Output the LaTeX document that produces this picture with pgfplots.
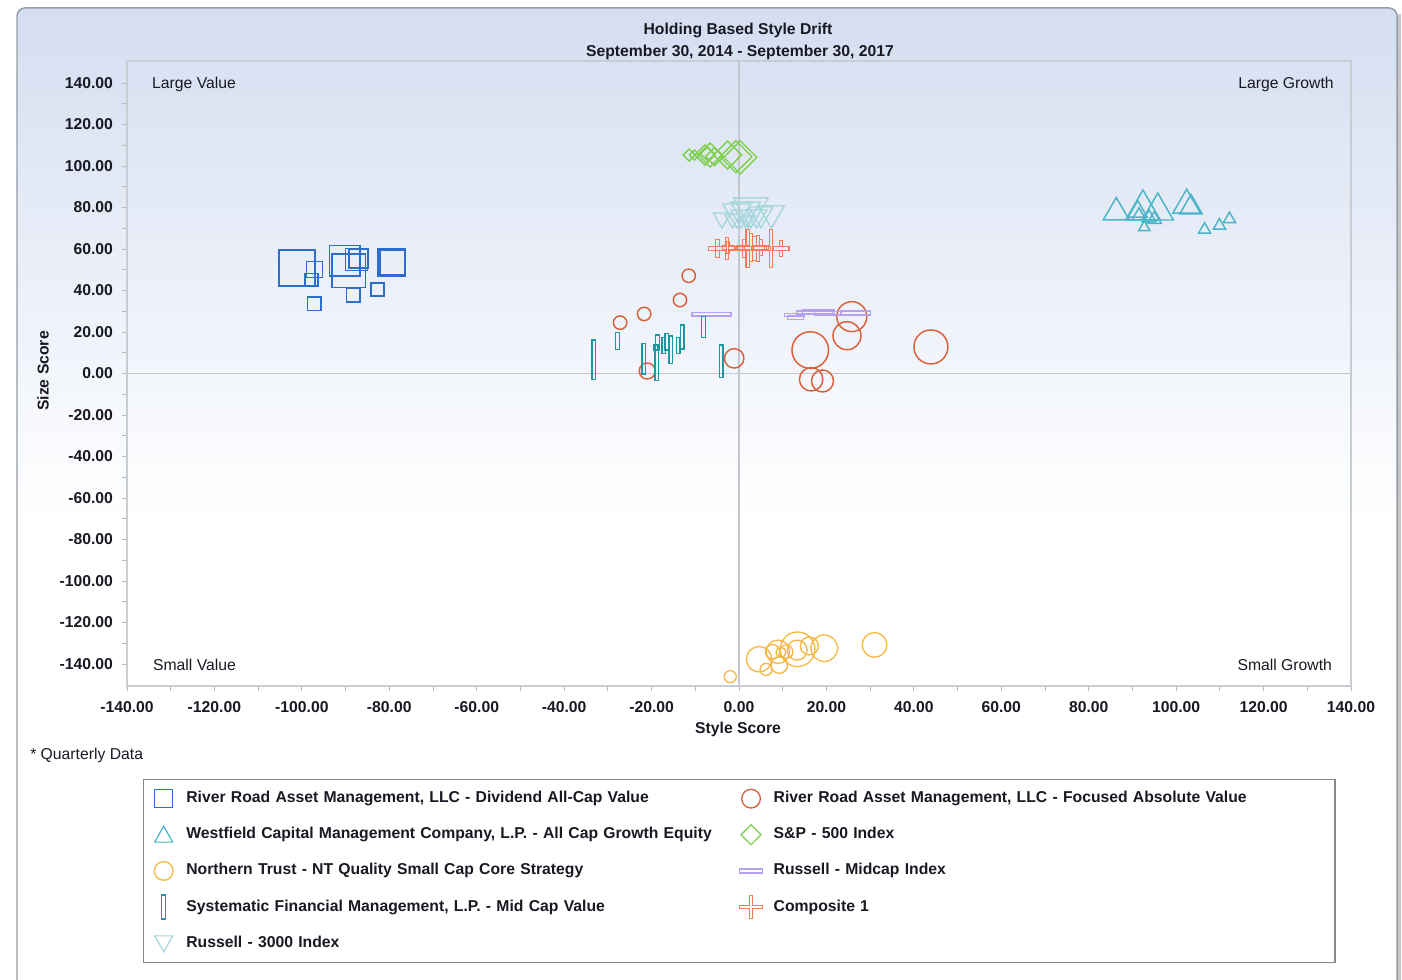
\documentclass[border=0pt]{standalone}
\usepackage{pgfplots}
\pgfplotsset{compat=1.18}
\usepackage{fontspec}
\setmainfont{Liberation Sans}
\definecolor{cRRD}{RGB}{45,110,205}
\definecolor{cRRF}{RGB}{217,96,59}
\definecolor{cWF}{RGB}{75,181,200}
\definecolor{cSP}{RGB}{124,207,74}
\definecolor{cNT}{RGB}{245,185,69}
\definecolor{cMC}{RGB}{184,160,240}
\definecolor{cSY}{RGB}{32,150,162}
\definecolor{cCO}{RGB}{244,122,90}
\definecolor{cR3}{RGB}{164,214,220}
\definecolor{bgtop}{RGB}{212,222,241}
\definecolor{framec}{RGB}{200,205,212}
\definecolor{zeroc}{RGB}{196,200,206}
\definecolor{legbord}{RGB}{130,136,142}
\definecolor{outer}{RGB}{150,156,165}
\definecolor{txt}{RGB}{25,25,35}
\newcommand{\mainfs}{\fontsize{11.8}{14}\selectfont}

\pgfdeclareplotmark{vbar}{%
  \pgfpathrectangle{\pgfqpoint{-1.4pt}{-\pgfplotmarksize}}{\pgfqpoint{2.8pt}{2\pgfplotmarksize}}%
  \pgfusepathqstroke}
\pgfdeclareplotmark{hbar}{%
  \pgfpathrectangle{\pgfqpoint{-\pgfplotmarksize}{-1.2pt}}{\pgfqpoint{2\pgfplotmarksize}{2.4pt}}%
  \pgfusepathqstroke}
\pgfdeclareplotmark{plusbox}{%
  \pgfpathmoveto{\pgfqpoint{-1.3pt}{\pgfplotmarksize}}%
  \pgfpathlineto{\pgfqpoint{1.3pt}{\pgfplotmarksize}}%
  \pgfpathlineto{\pgfqpoint{1.3pt}{1.3pt}}%
  \pgfpathlineto{\pgfqpoint{\pgfplotmarksize}{1.3pt}}%
  \pgfpathlineto{\pgfqpoint{\pgfplotmarksize}{-1.3pt}}%
  \pgfpathlineto{\pgfqpoint{1.3pt}{-1.3pt}}%
  \pgfpathlineto{\pgfqpoint{1.3pt}{-\pgfplotmarksize}}%
  \pgfpathlineto{\pgfqpoint{-1.3pt}{-\pgfplotmarksize}}%
  \pgfpathlineto{\pgfqpoint{-1.3pt}{-1.3pt}}%
  \pgfpathlineto{\pgfqpoint{-\pgfplotmarksize}{-1.3pt}}%
  \pgfpathlineto{\pgfqpoint{-\pgfplotmarksize}{1.3pt}}%
  \pgfpathlineto{\pgfqpoint{-1.3pt}{1.3pt}}%
  \pgfpathclose\pgfusepathqstroke}
\pgfdeclareplotmark{sqdiamond}{%
  \pgfpathmoveto{\pgfqpoint{0pt}{\pgfplotmarksize}}%
  \pgfpathlineto{\pgfqpoint{\pgfplotmarksize}{0pt}}%
  \pgfpathlineto{\pgfqpoint{0pt}{-\pgfplotmarksize}}%
  \pgfpathlineto{\pgfqpoint{-\pgfplotmarksize}{0pt}}%
  \pgfpathclose\pgfusepathqstroke}
\pgfdeclareplotmark{tridown}{%
  \pgfpathmoveto{\pgfqpoint{0pt}{-\pgfplotmarksize}}%
  \pgfpathlineto{\pgfqpoint{.866\pgfplotmarksize}{.5\pgfplotmarksize}}%
  \pgfpathlineto{\pgfqpoint{-.866\pgfplotmarksize}{.5\pgfplotmarksize}}%
  \pgfpathclose\pgfusepathqstroke}

\pgfplotsset{
  bub/.style={only marks, scatter, point meta=y,
    scatter/use mapped color={draw=#1, fill=none},
    visualization depends on={0.75*\thisrow{r}\as\rr},
    scatter/@pre marker code/.append style={/tikz/mark size=\rr}},
  leg/.style={legend image code/.code={\path[draw=none,fill=none] (0pt,-6pt) rectangle (24pt,6pt); #1}},
}

\begin{document}
\begin{tikzpicture}
\begin{scope}[x=0.75pt,y=-0.75pt,shift={(0pt,735pt)}]
  \useasboundingbox (0,0) rectangle (1402,980);
  \fill[white] (0,0) rectangle (1402,980);
  \begin{scope}
    \clip[rounded corners=6pt] (17,1010) -- (17,8) -- (1397,8) -- (1397,1010) -- cycle;
    \fill[white] (17,8) rectangle (1397,1010);
    \shade[top color=bgtop, bottom color=white] (17,8) rectangle (1397,520);
  \end{scope}
  \draw[outer, line width=1.1pt, rounded corners=6pt] (17,1010) -- (17,8) -- (1397,8) -- (1397,1010);
  \draw[gray!45, line width=2.2pt] (1399.5,14) -- (1399.5,1000);
\end{scope}

\begin{axis}[
  at={(95.25pt,220.5pt)}, anchor=south west,
  width=918pt, height=468.75pt, scale only axis,
  xmin=-140, xmax=140, ymin=-150.6, ymax=150.6,
  axis line style={draw=framec, line width=0.9pt},
  xtick={-140,-120,...,140}, ytick={-140,-120,...,140},
  minor x tick num=1, minor y tick num=1,
  tick pos=left, tick align=outside,
  major tick length=4pt, minor tick length=4pt,
  every tick/.style={draw=gray!55, line width=0.6pt},
  ticklabel style={font=\mainfs\bfseries, text=txt},
  xticklabel style={yshift=-3.75pt},
  yticklabel style={xshift=-3pt},
  /pgf/number format/.cd, fixed, fixed zerofill, precision=2, assume math mode=true, 1000 sep={},
  /pgfplots/.cd,
  xlabel={Style Score}, ylabel={Size Score},
  xlabel style={at={(axis description cs:0.4992,-0.0688)}, anchor=center, font=\mainfs\bfseries, text=txt},
  ylabel style={at={(axis description cs:-0.0686,0.504)}, anchor=center, font=\mainfs\bfseries, text=txt},
  legend columns=2,
  legend cell align=left,
  legend style={at={(0.0131,-0.1488)}, anchor=north west, draw=legbord, line width=1pt, fill=white,
    inner xsep=8pt, inner ysep=8.25pt, column sep=0pt, row sep=15.1pt,
    /tikz/every odd column/.append style={column sep=0pt},
    /tikz/every even column/.append style={column sep=3.5pt},
    nodes={text width=413pt, text height=9pt, text depth=3pt, inner sep=0pt, anchor=west, font=\mainfs\bfseries, text=txt}},
]
\draw[zeroc, line width=0.9pt] (axis cs:0,-150.6) -- (axis cs:0,150.6);
\draw[zeroc, line width=0.9pt] (axis cs:-140,0) -- (axis cs:140,0);
\node[anchor=west, inner sep=0pt, font=\mainfs, text=txt] at (axis cs:-134.3,139.2) {Large Value};
\node[anchor=east, inner sep=0pt, font=\mainfs, text=txt] at (axis cs:136.1,139.2) {Large Growth};
\node[anchor=west, inner sep=0pt, font=\mainfs, text=txt] at (axis cs:-134.1,-140.5) {Small Value};
\node[anchor=east, inner sep=0pt, font=\mainfs, text=txt] at (axis cs:135.7,-140.5) {Small Growth};

% River Road - Dividend All-Cap Value
\addplot[bub=cRRD, mark=square, line width=1.2pt,
  leg={\draw[overlay,cRRD,line width=1pt] (0.25pt,-6.75pt) rectangle (13.75pt,6.75pt);}]
table {
x y r
-101.1 50.8 18
-97.1 50.1 8
-97.8 45.2 6.3
-97.2 33.5 6.7
-90.2 54.3 15.3
-89.3 49.4 16.7
-87.5 55.0 11
-87.1 55.3 9.5
-88.3 37.7 6.7
-82.7 40.5 6.5
-79.5 53.5 13.5
-79.2 53.5 12.5
};
\addlegendentry{River Road Asset Management, LLC - Dividend All-Cap Value}

% River Road - Focused Absolute Value
\addplot[bub=cRRF, mark=o, line width=1.1pt,
  leg={\draw[overlay,cRRF,line width=1pt] (7pt,0pt) circle (7pt);}]
table {
x y r
-27.2 24.5 6.7
-21.7 28.7 6.7
-13.5 35.4 6.7
-11.5 47.1 6.7
-21.0 1.2 8
-1.1 7.3 9.7
16.3 11.3 18.3
16.5 -2.8 11.7
19.1 -3.6 11
24.7 18.2 14
25.8 27.4 15
43.9 12.8 17
};
\addlegendentry{River Road Asset Management, LLC - Focused Absolute Value}

% Westfield
\addplot[bub=cWF, mark=triangle, line width=1.1pt,
  leg={\draw[overlay,cWF,line width=0.9pt] (7pt,6.5pt) -- (0.25pt,-5.5pt) -- (13.75pt,-5.5pt) -- cycle;}]
table {
x y r
86.3 77.6 15
92.4 78.8 20
91.2 78.0 11
95.8 78.3 18
95.0 74.3 8
92.7 70.4 6.5
102.4 81.1 16
103.4 80.0 13
106.5 69.3 7
109.9 71.3 7
112.2 74.4 7
91.5 76.0 8
93.8 75.0 8
};
\addlegendentry{Westfield Capital Management Company, L.P. - All Cap Growth Equity}

% S&P 500
\addplot[bub=cSP, mark=sqdiamond, line width=1.0pt,
  leg={\draw[overlay,cSP,line width=0.9pt] (7pt,7.5pt) -- (14.5pt,0pt) -- (7pt,-7.5pt) -- (-0.5pt,0pt) -- cycle;}]
table {
x y r
-11.4 105.3 6
-10.2 105.3 5
-7.8 105.3 10
-7.2 105.8 7
-6.6 105.3 12
-5.6 104.5 9
-2.6 105.3 14
-0.7 104.5 16
0.3 104.2 16.5
};
\addlegendentry{S\&P - 500 Index}

% Northern Trust
\addplot[bub=cNT, mark=o, line width=1.0pt,
  leg={\draw[overlay,cNT,line width=1pt] (7pt,0pt) circle (7pt);}]
table {
x y r
-2.0 -146.1 6
4.6 -137.7 12.7
6.2 -142.6 6
9.2 -140.5 8.3
8.9 -134.1 11.7
7.7 -134.1 7.3
9.6 -134.4 5
10.8 -134.1 6.7
13.4 -132.9 17.3
13.3 -133.3 10
16.1 -131.3 9
19.5 -132.4 13.3
31.0 -130.8 12.3
};
\addlegendentry{Northern Trust - NT Quality Small Cap Core Strategy}

% Russell Midcap
\addplot[bub=cMC, mark=hbar, line width=0.9pt,
  leg={\draw[overlay,cMC,line width=0.9pt] (-1.5pt,-1.5pt) rectangle (15.5pt,1.5pt);}]
table {
x y r
-6.3 28.5 19.5
12.7 28.2 9.7
13.0 26.9 8
17.2 29.3 18
18.2 29.8 16
23.7 29.0 28
26.7 29.3 14.7
};
\addlegendentry{Russell - Midcap Index}

% Systematic
\addplot[bub=cSY, mark=vbar, line width=1.0pt,
  leg={\draw[overlay,cSY,line width=0.9pt] (5.5pt,-9pt) rectangle (8.5pt,9pt);}]
table {
x y r
-33.2 6.7 19.7
-27.8 15.7 8.3
-21.8 7.1 15.3
-18.8 5.2 17.8
-18.6 14.9 7.5
-17.2 13.6 8
-16.5 15.3 8.3
-15.6 11.5 13.7
-13.9 13.6 8
-13.0 17.6 12
-8.1 22.4 10.3
-4.1 5.9 16.3
-19.0 12.5 3
};
\addlegendentry{Systematic Financial Management, L.P. - Mid Cap Value}

% Composite 1
\addplot[bub=cCO, mark=plusbox, line width=0.8pt,
  leg={\draw[overlay,cCO,line width=0.8pt] (5.9pt,8.6pt) -- (8.1pt,8.6pt) -- (8.1pt,1.1pt) -- (15.6pt,1.1pt) -- (15.6pt,-1.1pt) -- (8.1pt,-1.1pt) -- (8.1pt,-8.6pt) -- (5.9pt,-8.6pt) -- (5.9pt,-1.1pt) -- (-1.6pt,-1.1pt) -- (-1.6pt,1.1pt) -- (5.9pt,1.1pt) -- cycle;}]
table {
x y r
-4.9 60.3 9
-2.8 60.3 11
-2.5 60.8 6
1.2 60.3 9
2.0 60.3 19
2.7 60.8 14
3.5 60.3 12
4.3 60.3 13
5.0 60.8 8
7.3 60.3 19
9.6 60.3 8
};
\addlegendentry{Composite 1}

% Russell 3000
\addplot[bub=cR3, mark=tridown, line width=1.0pt,
  leg={\draw[overlay,cR3,line width=0.9pt] (0.25pt,5.5pt) -- (13.75pt,5.5pt) -- (7pt,-6.5pt) -- cycle;}]
table {
x y r
-3.9 74.9 10
-1.5 74.5 9
0.5 75.9 12
2.0 74.0 8
2.7 79.8 20
4.0 75.9 12
5.0 76.9 14
7.4 77.2 15
-0.5 77.8 16
1.5 78.5 17
};
\addlegendentry{Russell - 3000 Index}
\end{axis}

\begin{scope}[x=0.75pt,y=-0.75pt,shift={(0pt,735pt)}]
  \node[font=\mainfs\bfseries, text=txt] at (738,30) {Holding Based Style Drift};
  \node[font=\mainfs\bfseries, text=txt] at (740,52) {September 30, 2014 - September 30, 2017};
  \node[anchor=west, inner sep=0pt, font=\mainfs, text=txt] at (30,755) {* Quarterly Data};
\end{scope}
\end{tikzpicture}
\end{document}
